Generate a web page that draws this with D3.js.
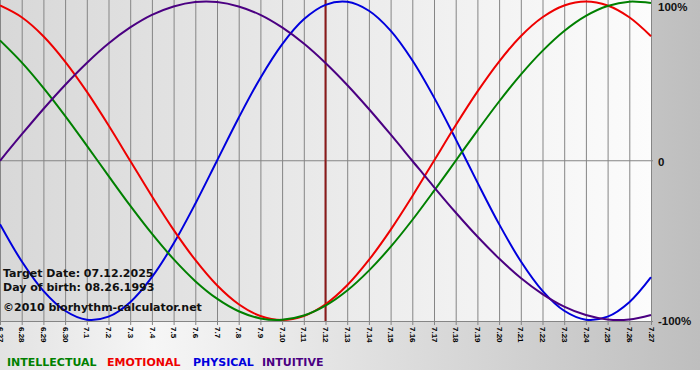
<!DOCTYPE html>
<html lang="en">
<head>
    <meta charset="UTF-8">
    <title>Biorhythm</title>
    <script src="https://d3js.org/d3.v7.min.js"></script>
    <style>
        body {
            margin: 0;
            padding: 0;
            background: #fff;
        }
        svg {
            display: block;
            font-family: "DejaVu Sans", Verdana, sans-serif;
        }
        .xlab text {
            font-size: 8px;
            font-weight: bold;
            fill: #000;
        }
        .ylab text {
            font-size: 11.5px;
            font-weight: bold;
            fill: #111;
        }
        .info {
            font-size: 11px;
            font-weight: bold;
            fill: #111;
        }
        .legend {
            font-size: 11px;
            font-weight: bold;
        }
    </style>
</head>
<body>
    <div id="chart"></div>

    <script>
        // days shown (month.day)
        const dates = ["6.27", "6.28", "6.29", "6.30",
            "7.1", "7.2", "7.3", "7.4", "7.5", "7.6", "7.7", "7.8", "7.9", "7.10",
            "7.11", "7.12", "7.13", "7.14", "7.15", "7.16", "7.17", "7.18", "7.19", "7.20",
            "7.21", "7.22", "7.23", "7.24", "7.25", "7.26", "7.27"];
        const targetDate = "7.12";

        // cycle values per day (-1 .. 1)
        const physical = [-0.398, -0.631, -0.817, -0.942, -0.998, -0.979, -0.888, -0.731, -0.520, -0.270, 0,
            0.270, 0.520, 0.731, 0.888, 0.979, 0.998, 0.942, 0.817, 0.631, 0.398,
            0.136, -0.136, -0.398, -0.631, -0.817, -0.942, -0.998, -0.979, -0.888, -0.731];
        const emotional = [0.975, 0.901, 0.782, 0.623, 0.434, 0.223, 0, -0.223, -0.434, -0.623, -0.782,
            -0.901, -0.975, -1, -0.975, -0.901, -0.782, -0.623, -0.434, -0.223, 0,
            0.223, 0.434, 0.623, 0.782, 0.901, 0.975, 1, 0.975, 0.901, 0.782];
        const intellectual = [0.756, 0.618, 0.458, 0.282, 0.095, -0.095, -0.282, -0.458, -0.618, -0.756, -0.866,
            -0.945, -0.990, -0.999, -0.972, -0.910, -0.815, -0.690, -0.541, -0.372, -0.189,
            0, 0.189, 0.372, 0.541, 0.690, 0.815, 0.910, 0.972, 0.999, 0.990];
        const intuitive = [0, 0.165, 0.325, 0.476, 0.614, 0.736, 0.837, 0.916, 0.969, 0.997, 0.997,
            0.969, 0.916, 0.837, 0.736, 0.614, 0.476, 0.325, 0.165, 0, -0.165,
            -0.325, -0.476, -0.614, -0.736, -0.837, -0.916, -0.969, -0.997, -0.997, -0.969];

        const yTicks = [1, 0, -1];
        const infoLines = ["Target Date: 07.12.2025", "Day of birth: 08.26.1993", "\u00a92010 biorhythm-calculator.net"];

        const series = [
            { name: "PHYSICAL", values: physical, color: "#0000dd", lx: 193 },
            { name: "EMOTIONAL", values: emotional, color: "#ee0000", lx: 107 },
            { name: "INTELLECTUAL", values: intellectual, color: "#008000", lx: 7 },
            { name: "INTUITIVE", values: intuitive, color: "#4b0082", lx: 262 }
        ];

        const width = 700;
        const height = 380;
        const plotW = 651;
        const plotBottom = 321;

        const svg = d3.select("#chart")
            .append("svg")
            .attr("width", width)
            .attr("height", height);

        const defs = svg.append("defs");
        const outerGrad = defs.append("linearGradient").attr("id", "outerGrad");
        outerGrad.append("stop").attr("offset", "0%").attr("stop-color", "#e2e2e2");
        outerGrad.append("stop").attr("offset", "22%").attr("stop-color", "#f6f6f6");
        outerGrad.append("stop").attr("offset", "100%").attr("stop-color", "#bebebe");
        const plotGrad = defs.append("linearGradient").attr("id", "plotGrad");
        plotGrad.append("stop").attr("offset", "0%").attr("stop-color", "#d8d8d8");
        plotGrad.append("stop").attr("offset", "100%").attr("stop-color", "#fcfcfc");

        svg.append("rect")
            .attr("width", width)
            .attr("height", 370)
            .attr("fill", "url(#outerGrad)");
        svg.append("rect")
            .attr("width", plotW)
            .attr("height", plotBottom)
            .attr("fill", "url(#plotGrad)");

        const x = d3.scalePoint()
            .domain(dates)
            .range([0, plotW]);

        const y = d3.scaleLinear()
            .domain([-1, 1])
            .range([320, 1.5]);

        // vertical grid + rotated day labels
        const xAxis = svg.append("g")
            .attr("class", "xlab")
            .attr("transform", `translate(0,325)`)
            .call(d3.axisBottom(x).tickSize(-325).tickPadding(0));
        xAxis.select(".domain").remove();
        xAxis.selectAll(".tick line").attr("stroke", "#858585");
        xAxis.selectAll(".tick text")
            .attr("transform", "rotate(90)")
            .attr("x", 2)
            .attr("y", 0)
            .attr("dy", "0.35em")
            .attr("text-anchor", "start");

        // zero line and bottom line
        svg.append("line")
            .attr("x1", 0).attr("x2", plotW + 2)
            .attr("y1", y(0)).attr("y2", y(0))
            .attr("stroke", "#858585");
        svg.append("line")
            .attr("x1", 0).attr("x2", plotW + 2)
            .attr("y1", plotBottom + 0.5).attr("y2", plotBottom + 0.5)
            .attr("stroke", "#858585");

        // right labels
        const yAxis = svg.append("g")
            .attr("class", "ylab")
            .attr("transform", `translate(${plotW},0)`)
            .call(d3.axisRight(y)
                .tickValues(yTicks)
                .tickSize(0)
                .tickPadding(7)
                .tickFormat(d => d === 0 ? "0" : Math.round(d * 100) + "%"));
        yAxis.select(".domain").remove();
        yAxis.selectAll(".tick text")
            .attr("dy", d => d === 1 ? "0.75em" : "0.42em");

        // target day marker
        svg.append("line")
            .attr("x1", x(targetDate)).attr("x2", x(targetDate))
            .attr("y1", 0).attr("y2", plotBottom)
            .attr("stroke", "#8b1a1a")
            .attr("stroke-width", 2);

        const line = d3.line()
            .x((d, i) => x(dates[i]))
            .y(d => y(d))
            .curve(d3.curveCatmullRom);

        svg.selectAll(".cycle")
            .data(series)
            .enter().append("path")
            .attr("class", "cycle")
            .attr("d", d => line(d.values))
            .attr("fill", "none")
            .attr("stroke", d => d.color)
            .attr("stroke-width", 2);

        svg.selectAll(".info")
            .data(infoLines)
            .enter().append("text")
            .attr("class", "info")
            .attr("x", 3)
            .attr("y", (d, i) => [277, 291, 311][i])
            .text(d => d);

        svg.selectAll(".legend")
            .data(series)
            .enter().append("text")
            .attr("class", "legend")
            .attr("x", d => d.lx)
            .attr("y", 366)
            .attr("fill", d => d.color)
            .text(d => d.name);
    </script>
</body>
</html>
